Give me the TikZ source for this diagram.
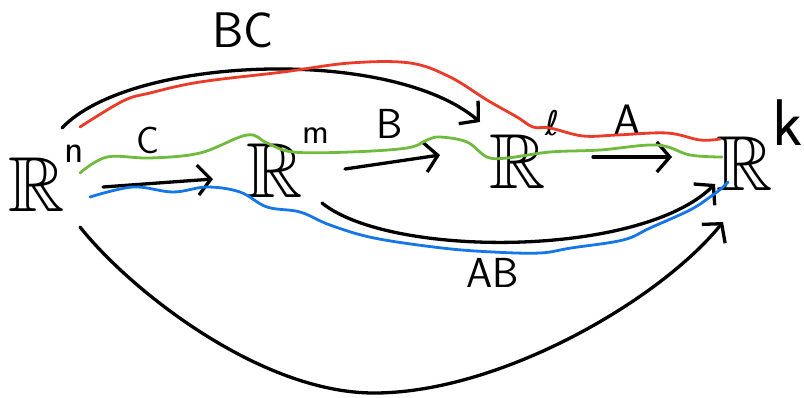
\documentclass[tikz,border=0pt]{standalone}
\usepackage{fontspec}
\usepackage{amssymb}
\newfontfamily\dejavu{DejaVu Sans}
\usetikzlibrary{arrows.meta,calc}
\definecolor{hlred}{RGB}{235,58,40}
\definecolor{hlgreen}{RGB}{112,186,62}
\definecolor{hlblue}{RGB}{20,118,232}
\begin{document}
\begin{tikzpicture}[x=1pt,y=-1pt,
  space/.style={anchor=base west,inner sep=0pt,font=\fontsize{78}{80}\selectfont},
  lbl/.style={inner sep=0pt,font=\sffamily\fontsize{#1}{#1}\selectfont},
  map/.style={line width=3.3pt,line cap=round,line join=round,
     -{Straight Barb[length=13pt,width=30pt,line width=3.3pt]}},
  hl/.style={line width=2.8pt,line cap=round,line join=round}]
\useasboundingbox (0,0) rectangle (804,397);

% spaces
\node[space] (Rn) at (8,211) {$\mathbb{R}$\raisebox{49pt}{\sffamily\fontsize{40}{40}\selectfont n}};
\node[space] (Rm) at (246,197) {$\mathbb{R}$\raisebox{54pt}{\sffamily\fontsize{36}{36}\selectfont m}};
\node[space] (Rl) at (489,188) {$\mathbb{R}$\raisebox{53pt}{\dejavu\fontsize{34}{34}\selectfont ℓ}};
\node[space] (Rk) at (716,190) {$\mathbb{R}$\raisebox{45pt}{\sffamily\fontsize{66}{66}\selectfont k}};

% labels
\node[lbl=50] (lBC) at (243,30) {BC};
\node[lbl=38] (lC) at (148,140) {C};
\node[lbl=42] (lB) at (390,124) {B};
\node[lbl=44] (lA) at (627,120) {A};
\node[lbl=42] (lAB) at (493,273) {AB};

% maps
\draw[map] ($(Rn.base west)+(95,-24)$) -- ($(Rm.base west)+(-33,-18)$);
\draw[map] ($(Rm.base west)+(99,-28)$) -- ($(Rl.base west)+(-49,-33)$);
\draw[map] ($(Rl.base west)+(104,-31)$) -- ($(Rk.base west)+(-44,-33)$);
\draw[map] ($(Rn.base west)+(54,-83)$) .. controls (130,56) and (390,46) .. ($(Rl.base west)+(-9,-66)$);
\draw[map] ($(Rm.base west)+(76,6)$) .. controls (390,258) and (640,258) .. ($(Rk.base west)+(-1,-6)$);
\draw[map] ($(Rn.base west)+(72,16)$) .. controls (130,290) and (260,393) .. (374,393)
   .. controls (500,393) and (660,300) .. ($(Rk.base west)+(7,32)$);

% highlighted paths
\draw[hl,hlred] plot[smooth,tension=0.6] coordinates {(80,127) (123,101) (150,93) (200,82) (283,72) (350,63) (410,63) (450,77) (487,100) (517,117) (533,127) (550,128) (583,136) (617,135) (667,133) (700,140) (720,139)};
\draw[hl,hlgreen] plot[smooth,tension=0.6] coordinates {(80,173) (107,157) (150,158) (200,153) (247,135) (267,143) (293,152) (350,152) (407,148) (427,140) (440,137) (467,142) (487,157) (507,158) (550,152) (600,150) (657,145) (690,155) (722,157)};
\draw[hl,hlblue] plot[smooth,tension=0.6] coordinates {(90,197) (133,187) (173,192) (207,187) (240,192) (267,207) (300,212) (330,225) (374,238) (442,248) (493,252) (540,253) (571,248) (623,240) (650,228) (690,210) (710,197) (722,188) (728,182)};
\end{tikzpicture}
\end{document}
